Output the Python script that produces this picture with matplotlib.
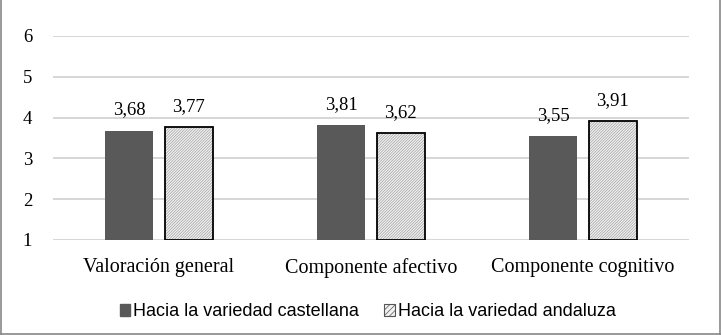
import numpy as np
import matplotlib
matplotlib.use('Agg')
import matplotlib.pyplot as plt
from matplotlib.patches import Patch
from matplotlib.lines import Line2D

categories = ['Valoración general', 'Componente afectivo', 'Componente cognitivo']
castellana = [3.68, 3.81, 3.55]
andaluza = [3.77, 3.62, 3.91]
series_names = ['Hacia la variedad castellana', 'Hacia la variedad andaluza']
yticks = [1, 2, 3, 4, 5, 6]

plt.rcParams['hatch.linewidth'] = 0.5

fig = plt.figure(figsize=(7.21, 3.35), dpi=100)
ax = fig.add_axes([53/721, 95/335, 636/721, 204/335])

x = np.arange(len(categories))
w = 0.225
gap = 0.055
xc = x - (w + gap) / 2
xa = x + (w + gap) / 2

ax.bar(xc, [v - 1 for v in castellana], w, bottom=1, color='#595959', zorder=3)
ax.bar(xa, [v - 1 for v in andaluza], w, bottom=1, color='#f2f2f2',
       edgecolor='#a0a0a0', hatch='////////////', linewidth=0, zorder=3)
ax.bar(xa, [v - 1 for v in andaluza], w, bottom=1, fill=False,
       edgecolor='black', linewidth=1.3, zorder=4)

serif = ['Liberation Serif', 'DejaVu Serif']
for xi, v in zip(xc, castellana):
    ax.text(xi, v + 0.3, f'{v:.2f}'.replace('.', ','), ha='center', va='bottom',
            fontsize=13.5, family=serif)
for xi, v in zip(xa, andaluza):
    ax.text(xi, v + 0.3, f'{v:.2f}'.replace('.', ','), ha='center', va='bottom',
            fontsize=13.5, family=serif)

ax.set_xlim(-0.5, len(categories) - 0.5)
ax.set_ylim(1, 6)
ax.set_yticks(yticks)
ax.set_yticklabels([str(t) for t in yticks], family=serif, fontsize=13.5)
ax.set_xticks(x)
ax.set_xticklabels(categories, family=serif, fontsize=14.5)
ax.tick_params(axis='both', length=0)
ax.tick_params(axis='y', pad=15)
ax.tick_params(axis='x', pad=13)
ax.yaxis.grid(True, color='#d0d0d0', linewidth=1.2, zorder=0)
ax.set_axisbelow(True)
for s in ax.spines.values():
    s.set_visible(False)

handles = [Patch(facecolor='#595959', edgecolor='#595959'),
           Patch(facecolor='#f2f2f2', edgecolor='#555555', hatch='//////', linewidth=0.8)]
fig.legend(handles, series_names, loc='center', bbox_to_anchor=(0.51, 23/335),
           ncol=2, frameon=False, prop={'family': ['Liberation Sans', 'DejaVu Sans'], 'size': 13},
           handlelength=0.6, handleheight=0.6, handletextpad=0.15, columnspacing=1.4)

# thin gray frame around the picture
for coords in [([0.001, 0.001], [0, 1]), ([0.999, 0.999], [0, 1]), ([0, 1], [0.002, 0.002])]:
    fig.add_artist(Line2D(coords[0], coords[1], color='#888888', linewidth=1.2,
                          transform=fig.transFigure))

fig.savefig('out.png', dpi=100)
